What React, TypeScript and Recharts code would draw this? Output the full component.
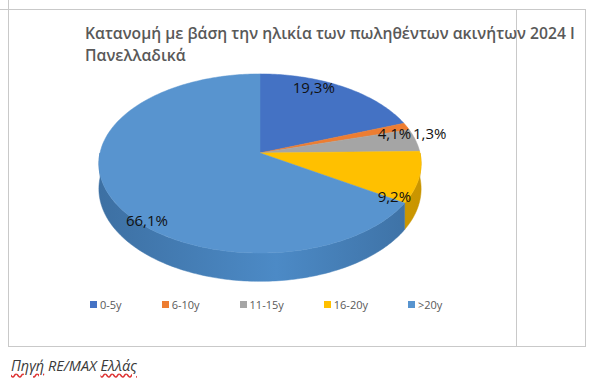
import React from "react";
import { PieChart, Pie, Cell, Legend } from "recharts";

const categories = ["0-5y", "6-10y", "11-15y", "16-20y", ">20y"];
const shares = [19.3, 1.3, 4.1, 9.2, 66.1];
const titleLines = [
  "Κατανομή με βάση την ηλικία των πωληθέντων ακινήτων 2024 Ι",
  "Πανελλαδικά",
];

const topColors = ["#4472C4", "#ED7D31", "#A5A5A5", "#FFC000", "#5894CF"];
const sideDark = ["#2F5597", "#B85A1C", "#7F7F7F", "#C99500", "#3D70A3"];
const sideLight = ["#3B63AD", "#D46A25", "#959595", "#DCA500", "#4C8AC6"];

// nudges to land labels where the original placed them
const labelNudge = [
  [-6, -18],
  [66, -1],
  [25, -11],
  [24, 26],
  [-11, 36],
];

const data = categories.map((name, i) => ({ name, value: shares[i] }));

const TILT = 0.552;
const PERSP = 0.117;
const DEPTH = 25;
const FONT = "'Open Sans', 'DejaVu Sans', sans-serif";

const proj = (cx: number, cy: number, r: number, deg: number, k = 1) => {
  const a = (deg * Math.PI) / 180;
  const s = Math.sin(a) * k;
  const c = Math.cos(a) * k;
  const f = 1 / (1 + PERSP * s);
  return [cx + r * c * f, cy - r * TILT * s * f, f];
};

const arcPoints = (cx: number, cy: number, r: number, from: number, to: number) => {
  const n = Math.max(2, Math.ceil(Math.abs(from - to)));
  const pts: number[][] = [];
  for (let j = 0; j <= n; j++) {
    pts.push(proj(cx, cy, r, from + ((to - from) * j) / n));
  }
  return pts;
};

const renderSlice = (props: any) => {
  const { cx, cy, outerRadius, startAngle, endAngle, index } = props;
  const rim = arcPoints(cx, cy, outerRadius, startAngle, endAngle);
  const top =
    `M${cx},${cy} ` + rim.map((p) => `L${p[0].toFixed(2)},${p[1].toFixed(2)}`).join(" ") + " Z";

  // front half of the disc (angles between -180 and 0) shows a side wall
  const hi = Math.min(startAngle, 0);
  const lo = Math.max(endAngle, -180);
  let side = null;
  if (hi > lo) {
    const upper = arcPoints(cx, cy, outerRadius, hi, lo);
    const lower = upper
      .slice()
      .reverse()
      .map((p) => [p[0], p[1] + DEPTH * p[2]]);
    const d =
      upper.map((p, j) => `${j ? "L" : "M"}${p[0].toFixed(2)},${p[1].toFixed(2)}`).join(" ") +
      " " +
      lower.map((p) => `L${p[0].toFixed(2)},${p[1].toFixed(2)}`).join(" ") +
      " Z";
    const gid = `side-grad-${index}`;
    side = (
      <>
        <defs>
          <linearGradient
            id={gid}
            gradientUnits="userSpaceOnUse"
            x1={cx - outerRadius}
            y1={0}
            x2={cx + outerRadius}
            y2={0}
          >
            <stop offset="0" stopColor={sideDark[index]} />
            <stop offset="0.55" stopColor={sideLight[index]} />
            <stop offset="1" stopColor={sideDark[index]} />
          </linearGradient>
        </defs>
        <path d={d} fill={`url(#${gid})`} stroke={`url(#${gid})`} strokeWidth={0.5} />
      </>
    );
  }
  return (
    <g key={`slice-${index}`}>
      {side}
      <path d={top} fill={topColors[index]} stroke={topColors[index]} strokeWidth={0.5} />
    </g>
  );
};

const renderValue = (props: any) => {
  const { cx, cy, outerRadius, midAngle, value, index } = props;
  const p = proj(cx, cy, outerRadius, midAngle, 0.7);
  const [dx, dy] = labelNudge[index];
  return (
    <text
      key={`val-${index}`}
      x={p[0] + dx}
      y={p[1] + dy}
      textAnchor="middle"
      dominantBaseline="central"
      fill="#111"
      fontSize={15}
      fontFamily={FONT}
    >
      {`${Number(value).toFixed(1).replace(".", ",")}%`}
    </text>
  );
};

const renderLegend = (props: any) => {
  const seen = new Set<string>();
  const items = (props.payload || [])
    .filter((e: any) => e.type !== "none" && categories.includes(e.value))
    .filter((e: any) => (seen.has(e.value) ? false : (seen.add(e.value), true)))
    .sort((a: any, b: any) => categories.indexOf(a.value) - categories.indexOf(b.value));
  return (
    <ul
      style={{
        listStyle: "none",
        margin: 0,
        padding: 0,
        display: "flex",
        fontFamily: FONT,
        fontSize: 11,
        color: "#595959",
        whiteSpace: "nowrap",
      }}
    >
      {items.map((entry: any) => (
        <li
          key={entry.value}
          style={{ display: "flex", alignItems: "center", marginRight: 40, lineHeight: "15px" }}
        >
          <span
            style={{
              width: 7,
              height: 7,
              background: topColors[categories.indexOf(entry.value)],
              marginRight: 3,
              display: "inline-block",
            }}
          />
          {entry.value}
        </li>
      ))}
    </ul>
  );
};

const line = (left: number, top: number, width: number, height: number) => (
  <div style={{ position: "absolute", left, top, width, height, background: "#c9c9c9" }} />
);

export default function App() {
  return (
    <div style={{ position: "absolute", left: 0, top: 0, width: 613, height: 386, background: "#fff" }}>
      {line(0, 9, 586, 1)}
      {line(8, 0, 1, 347)}
      {line(516, 9, 1, 337)}
      {line(585, 9, 1, 338)}
      {line(8, 346, 578, 1)}

      <div
        style={{
          position: "absolute",
          left: 85,
          top: 22,
          fontFamily: FONT,
          fontWeight: 600,
          fontSize: 15.7,
          lineHeight: "22px",
          color: "#595959",
          whiteSpace: "nowrap",
        }}
      >
        {titleLines.map((t) => (
          <div key={t}>{t}</div>
        ))}
      </div>

      <div style={{ position: "absolute", left: 0, top: 0 }}>
        <PieChart width={613} height={386} margin={{ top: 0, right: 0, bottom: 0, left: 0 }}>
          <Pie
            data={data}
            dataKey="value"
            nameKey="name"
            cx={260}
            cy={153}
            outerRadius={160}
            startAngle={90}
            endAngle={-270}
            stroke="none"
            fillOpacity={0}
            labelLine={false}
            label={renderSlice}
            isAnimationActive={false}
          >
            {data.map((d, i) => (
              <Cell key={d.name} fill={topColors[i]} />
            ))}
          </Pie>
          <Pie
            data={data}
            dataKey="value"
            nameKey="name"
            cx={260}
            cy={153}
            outerRadius={160}
            startAngle={90}
            endAngle={-270}
            stroke="none"
            fillOpacity={0}
            legendType="none"
            labelLine={false}
            label={renderValue}
            isAnimationActive={false}
          />
          <Legend
            layout="horizontal"
            verticalAlign="bottom"
            align="left"
            itemSorter={null}
            content={renderLegend}
            wrapperStyle={{ left: 90, top: 297, width: 420 }}
          />
        </PieChart>
      </div>

      <div
        style={{
          position: "absolute",
          left: 11,
          top: 357,
          fontFamily: FONT,
          fontStyle: "italic",
          fontSize: 14.5,
          lineHeight: "17px",
          color: "#3a3a3a",
          whiteSpace: "nowrap",
        }}
      >
        <span style={{ textDecoration: "underline wavy #d33", textUnderlineOffset: 2 }}>Πηγή</span> RE/MAX{" "}
        <span style={{ textDecoration: "underline wavy #d33", textUnderlineOffset: 2 }}>Ελλάς</span>
      </div>
    </div>
  );
}
